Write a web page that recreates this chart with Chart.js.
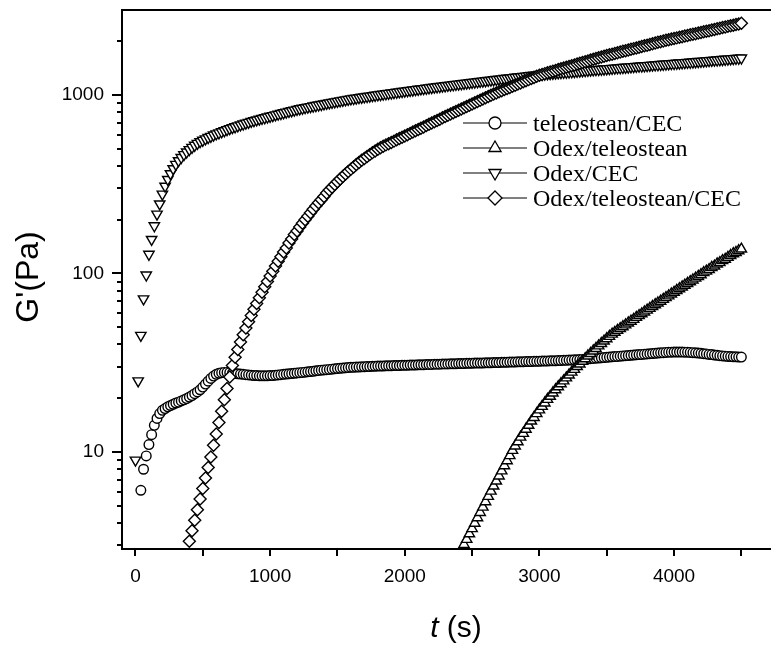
<!DOCTYPE html>
<html>
<head>
<meta charset="utf-8">
<script src="https://cdn.jsdelivr.net/npm/chart.js@4.4.1/dist/chart.umd.min.js"></script>
<style>
  html, body { margin: 0; padding: 0; background: #fff; }
</style>
</head>
<body>
<canvas id="chartCanvas" width="771" height="650"></canvas>
<script>
// time grid (s), one reading every 20 s
const times = [
  0, 20, 40, 60, 80, 100, 120, 140, 160, 180,
  200, 220, 240, 260, 280, 300, 320, 340, 360, 380,
  400, 420, 440, 460, 480, 500, 520, 540, 560, 580,
  600, 620, 640, 660, 680, 700, 720, 740, 760, 780,
  800, 820, 840, 860, 880, 900, 920, 940, 960, 980,
  1000, 1020, 1040, 1060, 1080, 1100, 1120, 1140, 1160, 1180,
  1200, 1220, 1240, 1260, 1280, 1300, 1320, 1340, 1360, 1380,
  1400, 1420, 1440, 1460, 1480, 1500, 1520, 1540, 1560, 1580,
  1600, 1620, 1640, 1660, 1680, 1700, 1720, 1740, 1760, 1780,
  1800, 1820, 1840, 1860, 1880, 1900, 1920, 1940, 1960, 1980,
  2000, 2020, 2040, 2060, 2080, 2100, 2120, 2140, 2160, 2180,
  2200, 2220, 2240, 2260, 2280, 2300, 2320, 2340, 2360, 2380,
  2400, 2420, 2440, 2460, 2480, 2500, 2520, 2540, 2560, 2580,
  2600, 2620, 2640, 2660, 2680, 2700, 2720, 2740, 2760, 2780,
  2800, 2820, 2840, 2860, 2880, 2900, 2920, 2940, 2960, 2980,
  3000, 3020, 3040, 3060, 3080, 3100, 3120, 3140, 3160, 3180,
  3200, 3220, 3240, 3260, 3280, 3300, 3320, 3340, 3360, 3380,
  3400, 3420, 3440, 3460, 3480, 3500, 3520, 3540, 3560, 3580,
  3600, 3620, 3640, 3660, 3680, 3700, 3720, 3740, 3760, 3780,
  3800, 3820, 3840, 3860, 3880, 3900, 3920, 3940, 3960, 3980,
  4000, 4020, 4040, 4060, 4080, 4100, 4120, 4140, 4160, 4180,
  4200, 4220, 4240, 4260, 4280, 4300, 4320, 4340, 4360, 4380,
  4400, 4420, 4440, 4460, 4480, 4500,
];

// G' (Pa), teleostean/CEC, starts at t = 40 s
const teleCecStart = 40;
const teleCec = [
  6.1, 8.0, 9.5, 11.0, 12.5, 14.1, 15.4, 16.4, 17.1, 17.5,
  17.9, 18.2, 18.5, 18.8, 19.0, 19.3, 19.6, 19.9, 20.3, 20.7,
  21.2, 21.7, 22.3, 23.1, 24.0, 24.9, 25.8, 26.6, 27.2, 27.6,
  27.8, 27.9, 27.9, 27.8, 27.6, 27.5, 27.4, 27.3, 27.2, 27.1,
  27.0, 26.9, 26.8, 26.8, 26.7, 26.7, 26.7, 26.7, 26.8, 26.8,
  26.9, 27.0, 27.1, 27.2, 27.3, 27.4, 27.5, 27.6, 27.7, 27.8,
  27.9, 28.0, 28.1, 28.2, 28.3, 28.5, 28.6, 28.7, 28.8, 28.9,
  29.0, 29.1, 29.2, 29.3, 29.4, 29.5, 29.6, 29.7, 29.8, 29.8,
  29.9, 29.9, 30.0, 30.0, 30.1, 30.1, 30.2, 30.2, 30.3, 30.3,
  30.3, 30.4, 30.4, 30.4, 30.5, 30.5, 30.5, 30.6, 30.6, 30.6,
  30.7, 30.7, 30.7, 30.8, 30.8, 30.8, 30.9, 30.9, 30.9, 31.0,
  31.0, 31.0, 31.1, 31.1, 31.1, 31.2, 31.2, 31.2, 31.3, 31.3,
  31.3, 31.4, 31.4, 31.4, 31.5, 31.5, 31.5, 31.5, 31.6, 31.6,
  31.6, 31.7, 31.7, 31.7, 31.8, 31.8, 31.8, 31.9, 31.9, 31.9,
  32.0, 32.0, 32.0, 32.1, 32.1, 32.1, 32.2, 32.2, 32.2, 32.3,
  32.3, 32.3, 32.4, 32.4, 32.4, 32.5, 32.5, 32.6, 32.6, 32.7,
  32.7, 32.8, 32.8, 32.9, 33.0, 33.1, 33.2, 33.3, 33.4, 33.5,
  33.6, 33.7, 33.8, 33.9, 34.0, 34.1, 34.2, 34.3, 34.4, 34.5,
  34.6, 34.7, 34.8, 34.9, 35.0, 35.1, 35.2, 35.3, 35.4, 35.5,
  35.6, 35.7, 35.8, 35.9, 36.0, 36.1, 36.2, 36.2, 36.3, 36.3,
  36.3, 36.3, 36.2, 36.2, 36.1, 36.0, 35.9, 35.8, 35.7, 35.5,
  35.4, 35.2, 35.1, 34.9, 34.8, 34.6, 34.5, 34.4, 34.3, 34.2,
  34.1, 34.1, 34.0, 34.0,
];

// Odex/teleostean, starts at t = 2400 s
const odexTeleStart = 2400;
const odexTele = [
  2.64, 2.82, 3.03, 3.24, 3.48, 3.72, 3.99, 4.28, 4.58, 4.91,
  5.26, 5.64, 6.03, 6.44, 6.87, 7.34, 7.83, 8.37, 8.93, 9.54,
  10.2, 10.8, 11.4, 12.1, 12.7, 13.4, 14.1, 14.9, 15.6, 16.4,
  17.2, 18.0, 18.8, 19.7, 20.5, 21.4, 22.3, 23.2, 24.1, 25.0,
  26.0, 27.0, 28.0, 29.0, 30.1, 31.1, 32.2, 33.3, 34.5, 35.6,
  36.8, 38.0, 39.3, 40.5, 41.8, 43.1, 44.4, 45.7, 46.8, 48.0,
  49.1, 50.3, 51.5, 52.8, 54.0, 55.3, 56.7, 58.0, 59.4, 60.8,
  62.3, 63.7, 65.3, 66.8, 68.3, 69.9, 71.6, 73.2, 74.9, 76.7,
  78.4, 80.3, 82.1, 84.0, 85.9, 87.9, 89.9, 91.9, 94.1, 96.2,
  98.4, 101, 103, 105, 108, 110, 113, 115, 118, 120,
  123, 126, 129, 131, 134, 137,
];

// Odex/CEC, starts at t = 0 s
const odexCecStart = 0;
const odexCec = [
  9, 25, 45, 72, 98, 128, 155, 185, 215, 245,
  278, 308, 336, 362, 386, 408, 428, 446, 463, 479,
  494, 508, 522, 535, 547, 557, 567, 577, 586, 596,
  605, 613, 622, 630, 639, 647, 655, 663, 671, 679,
  687, 695, 702, 710, 717, 724, 731, 738, 745, 752,
  759, 766, 773, 780, 787, 794, 801, 808, 815, 822,
  829, 836, 842, 848, 854, 860, 866, 872, 878, 884,
  890, 896, 902, 908, 914, 920, 926, 932, 938, 944,
  950, 955, 960, 965, 970, 975, 980, 985, 990, 995,
  1000, 1005, 1010, 1015, 1020, 1025, 1030, 1035, 1040, 1045,
  1050, 1055, 1060, 1065, 1070, 1075, 1080, 1085, 1090, 1095,
  1100, 1105, 1110, 1115, 1120, 1125, 1130, 1135, 1140, 1145,
  1150, 1155, 1160, 1165, 1170, 1175, 1180, 1185, 1190, 1195,
  1200, 1205, 1210, 1215, 1220, 1225, 1230, 1235, 1240, 1245,
  1250, 1255, 1260, 1265, 1270, 1275, 1280, 1285, 1290, 1295,
  1300, 1304, 1308, 1312, 1316, 1320, 1324, 1328, 1332, 1336,
  1340, 1344, 1348, 1352, 1356, 1360, 1364, 1368, 1372, 1376,
  1380, 1384, 1388, 1392, 1396, 1400, 1404, 1408, 1412, 1416,
  1420, 1424, 1428, 1432, 1436, 1440, 1444, 1448, 1452, 1456,
  1460, 1464, 1468, 1472, 1476, 1480, 1484, 1488, 1492, 1496,
  1500, 1504, 1508, 1512, 1516, 1520, 1524, 1529, 1533, 1538,
  1542, 1547, 1551, 1556, 1560, 1565, 1569, 1574, 1578, 1583,
  1587, 1592, 1596, 1601, 1605, 1610,
];

// Odex/teleostean/CEC, starts at t = 400 s
const odexTeleCecStart = 400;
const odexTeleCec = [
  3.16, 3.62, 4.15, 4.75, 5.45, 6.24, 7.14, 8.18, 9.38, 10.9,
  12.6, 14.6, 16.9, 19.6, 22.7, 26.3, 30.5, 33.9, 37.5, 41.3,
  45.3, 49.4, 53.7, 58.2, 63.0, 67.9, 73.1, 78.5, 84.1, 90.2,
  96.6, 103, 110, 117, 124, 132, 139, 148, 156, 165,
  173, 182, 191, 200, 209, 219, 229, 239, 249, 259,
  270, 282, 293, 304, 315, 326, 338, 349, 361, 372,
  384, 395, 407, 418, 430, 441, 452, 463, 475, 485,
  496, 506, 516, 525, 533, 542, 551, 561, 570, 579,
  589, 599, 609, 619, 630, 640, 651, 662, 673, 684,
  696, 708, 719, 731, 744, 756, 769, 782, 794, 807,
  820, 834, 847, 861, 875, 889, 904, 918, 933, 948,
  964, 979, 995, 1012, 1026, 1041, 1056, 1071, 1086, 1102,
  1118, 1134, 1150, 1167, 1184, 1201, 1218, 1236, 1253, 1271,
  1290, 1303, 1316, 1330, 1344, 1358, 1372, 1386, 1400, 1414,
  1429, 1444, 1458, 1473, 1489, 1504, 1520, 1535, 1551, 1567,
  1584, 1600, 1616, 1633, 1648, 1663, 1677, 1692, 1708, 1723,
  1738, 1754, 1770, 1785, 1801, 1817, 1834, 1850, 1867, 1884,
  1900, 1918, 1935, 1952, 1970, 1987, 2005, 2023, 2039, 2055,
  2071, 2087, 2104, 2120, 2137, 2153, 2170, 2187, 2204, 2221,
  2239, 2256, 2274, 2291, 2309, 2328, 2346, 2364, 2383, 2402,
  2421, 2440, 2459, 2478, 2497, 2517,
];

// axis ticks
const xTicks = [0, 500, 1000, 1500, 2000, 2500, 3000, 3500, 4000, 4500];
const xLabels = [0, 1000, 2000, 3000, 4000];
const yTicks = [3, 4, 5, 6, 7, 8, 9, 10, 20, 30, 40, 50, 60, 70, 80, 90,
  100, 200, 300, 400, 500, 600, 700, 800, 900, 1000, 2000];
const yLabels = [10, 100, 1000];

const seriesNames = ['teleostean/CEC', 'Odex/teleostean', 'Odex/CEC', 'Odex/teleostean/CEC'];

function toPoints(values, start) {
  const offset = times.indexOf(start);
  return values.map((v, i) => ({ x: times[offset + i], y: v }));
}

function markerSet(label, values, start, style, radius, rotation, order) {
  return {
    label: label,
    data: toPoints(values, start),
    showLine: false,
    pointStyle: style,
    pointRadius: radius,
    pointRotation: rotation,
    pointBorderWidth: 1.4,
    pointBorderColor: '#000',
    pointBackgroundColor: '#fff',
    order: order,
    clip: { left: false, top: false, right: false, bottom: 0 },
  };
}

const legendMarks = [
  { pointStyle: 'circle', radius: 6, rotation: 0 },
  { pointStyle: 'triangle', radius: 7, rotation: 0 },
  { pointStyle: 'triangle', radius: 7, rotation: 180 },
  { pointStyle: 'rectRot', radius: 7, rotation: 0 },
];

const framePlugin = {
  id: 'frame',
  afterDraw(chart) {
    const ctx = chart.ctx;
    const a = chart.chartArea;
    const xs = chart.scales.x;
    const ys = chart.scales.y;
    ctx.save();
    ctx.strokeStyle = '#000';
    ctx.lineWidth = 2;
    ctx.beginPath();
    ctx.moveTo(a.left, a.top);
    ctx.lineTo(a.right, a.top);
    ctx.moveTo(a.left, a.top - 1);
    ctx.lineTo(a.left, a.bottom);
    ctx.lineTo(a.right, a.bottom);
    ctx.stroke();

    ctx.beginPath();
    xTicks.forEach((v) => {
      const px = Math.round(xs.getPixelForValue(v));
      ctx.moveTo(px, a.bottom);
      ctx.lineTo(px, a.bottom + 7);
    });
    yTicks.forEach((v) => {
      const py = Math.round(ys.getPixelForValue(v));
      const len = yLabels.includes(v) ? 10 : 5;
      ctx.moveTo(a.left - len, py);
      ctx.lineTo(a.left, py);
    });
    ctx.stroke();

    // axis titles
    ctx.fillStyle = '#000';
    ctx.textBaseline = 'alphabetic';
    ctx.font = 'italic 30px "Liberation Sans", Arial, sans-serif';
    const tW = ctx.measureText('t').width;
    ctx.font = '30px "Liberation Sans", Arial, sans-serif';
    const restW = ctx.measureText(' (s)').width;
    const x0 = 456 - (tW + restW) / 2;
    ctx.font = 'italic 30px "Liberation Sans", Arial, sans-serif';
    ctx.textAlign = 'left';
    ctx.fillText('t', x0, 637);
    ctx.font = '30px "Liberation Sans", Arial, sans-serif';
    ctx.fillText(' (s)', x0 + tW, 637);

    ctx.save();
    ctx.translate(38, 277);
    ctx.rotate(-Math.PI / 2);
    ctx.textAlign = 'center';
    ctx.font = '32px "Liberation Sans", Arial, sans-serif';
    ctx.fillText("G'(Pa)", 0, 0);
    ctx.restore();

    // legend
    ctx.font = '24px "Liberation Serif", "Times New Roman", serif';
    ctx.textAlign = 'left';
    seriesNames.forEach((name, i) => {
      const ly = 123 + i * 25;
      ctx.lineWidth = 1;
      ctx.strokeStyle = '#000';
      ctx.beginPath();
      ctx.moveTo(463, ly);
      ctx.lineTo(527, ly);
      ctx.stroke();
      ctx.fillStyle = '#fff';
      ctx.lineWidth = 1.3;
      Chart.helpers.drawPoint(ctx, { ...legendMarks[i], borderWidth: 1.3 }, 495, ly);
      ctx.fillStyle = '#000';
      ctx.fillText(name, 533, ly + 8);
    });
    ctx.restore();
  },
};

const tickFont = { family: '"Liberation Sans", Arial, sans-serif', size: 19 };

new Chart(document.getElementById('chartCanvas').getContext('2d'), {
  type: 'scatter',
  data: {
    datasets: [
      markerSet(seriesNames[0], teleCec, teleCecStart, 'circle', 4.8, 0, 4),
      markerSet(seriesNames[1], odexTele, odexTeleStart, 'triangle', 6, 0, 3),
      markerSet(seriesNames[2], odexCec, odexCecStart, 'triangle', 6, 180, 2),
      markerSet(seriesNames[3], odexTeleCec, odexTeleCecStart, 'rectRot', 6, 0, 1),
    ],
  },
  options: {
    responsive: false,
    animation: false,
    layout: { autoPadding: false, padding: { top: 10, right: 0, bottom: 0, left: 0 } },
    plugins: { legend: { display: false }, tooltip: { enabled: false } },
    scales: {
      x: {
        type: 'linear',
        min: -100,
        max: 4720,
        afterFit: (s) => {
          s.height = 101;
          s.paddingLeft = 0;
          s.paddingRight = 0;
        },
        afterBuildTicks: (s) => { s.ticks = xTicks.map((v) => ({ value: v })); },
        grid: { display: false, drawTicks: false },
        border: { display: false },
        ticks: {
          padding: 16,
          autoSkip: false,
          maxRotation: 0,
          color: '#000',
          font: tickFont,
          callback: (v) => (xLabels.includes(v) ? String(v) : ''),
        },
      },
      y: {
        type: 'logarithmic',
        min: 2.86,
        max: 2990,
        afterFit: (s) => {
          s.width = 122;
          s.paddingTop = 0;
          s.paddingBottom = 0;
        },
        afterBuildTicks: (s) => { s.ticks = yTicks.map((v) => ({ value: v })); },
        grid: { display: false, drawTicks: false },
        border: { display: false },
        ticks: {
          padding: 18,
          autoSkip: false,
          color: '#000',
          font: tickFont,
          callback: (v) => (yLabels.includes(v) ? String(v) : ''),
        },
      },
    },
  },
  plugins: [framePlugin],
});
</script>
</body>
</html>
